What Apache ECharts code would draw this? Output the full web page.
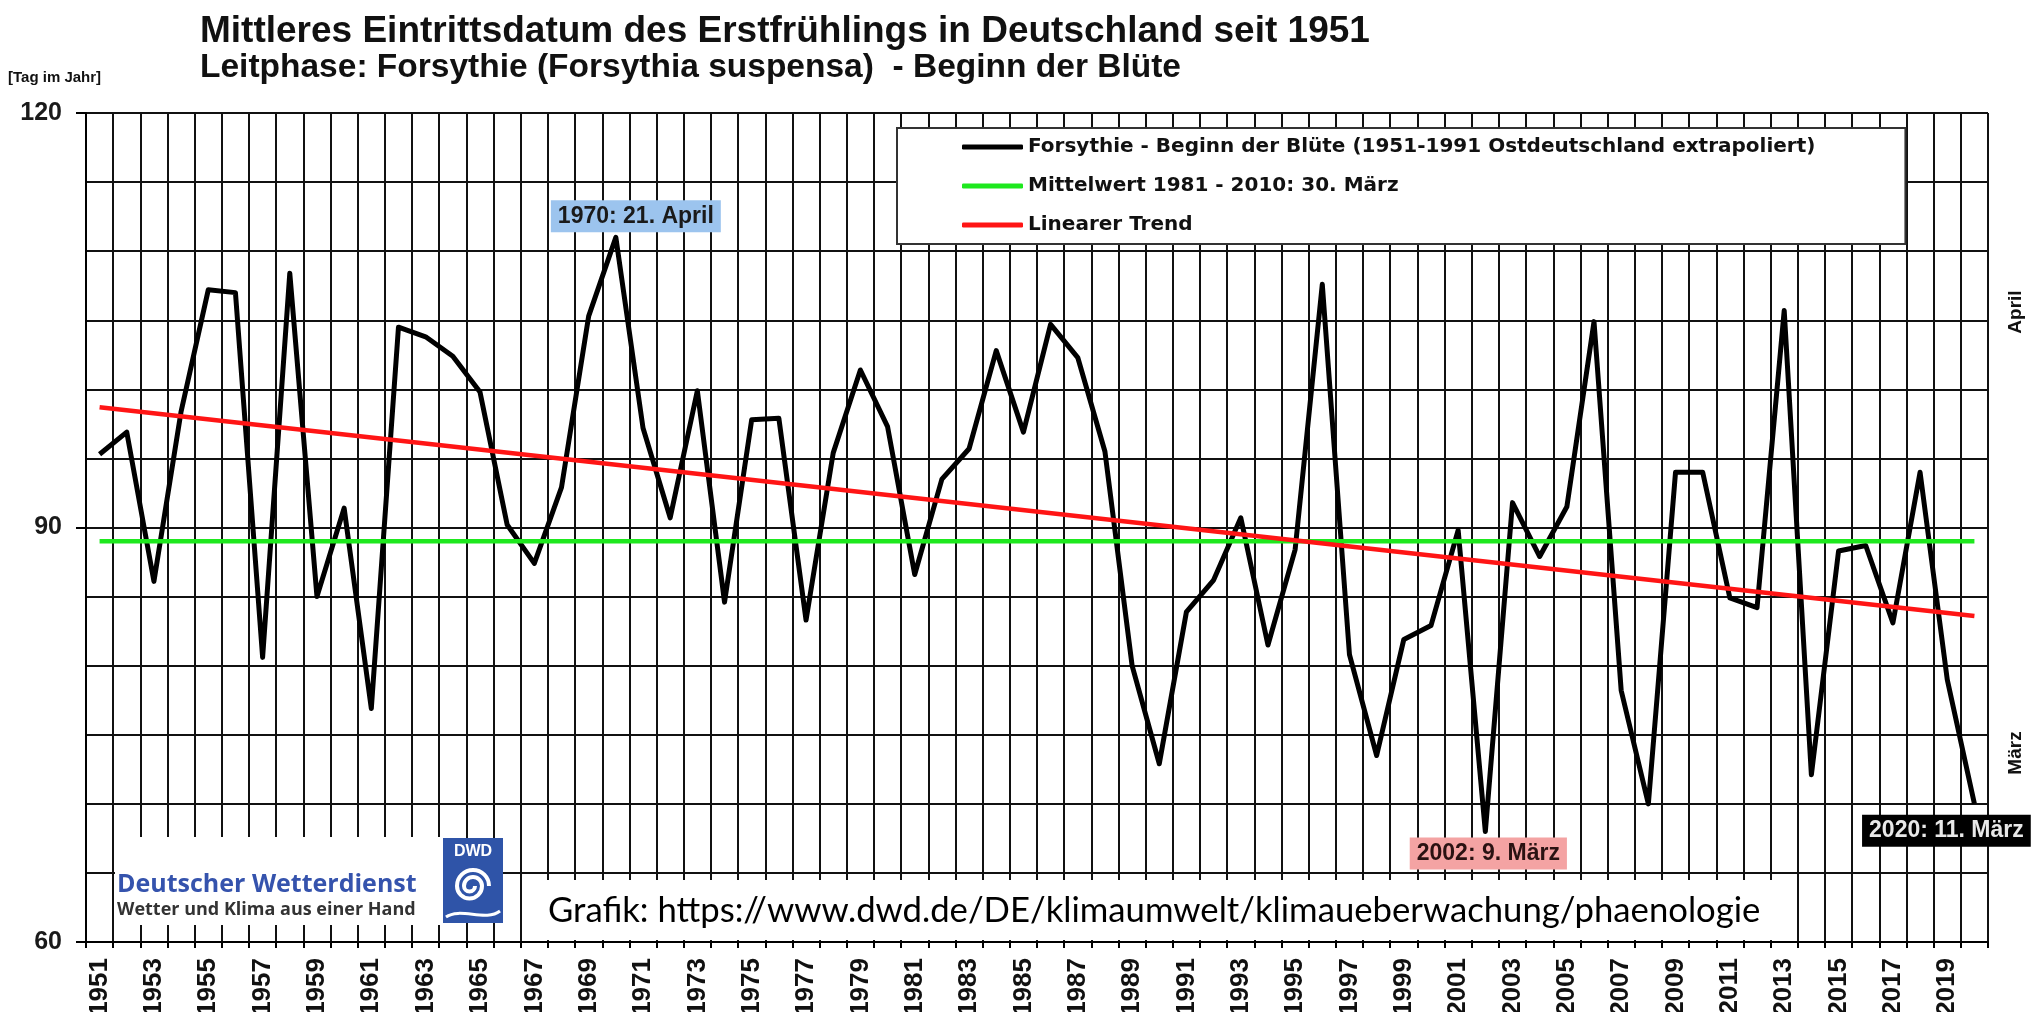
<!DOCTYPE html>
<html>
<head>
<meta charset="utf-8">
<script src="https://cdn.jsdelivr.net/npm/echarts@6/dist/echarts.min.js"></script>
<style>
  html, body { margin: 0; padding: 0; background: #fff; }
  #chart { width: 2031px; height: 1012px; }
</style>
</head>
<body>
<div id="chart"></div>
<script>
// Jahre (Kategorien)
const years = [
  '1951', '1952', '1953', '1954', '1955', '1956', '1957', '1958', '1959', '1960',
  '1961', '1962', '1963', '1964', '1965', '1966', '1967', '1968', '1969', '1970',
  '1971', '1972', '1973', '1974', '1975', '1976', '1977', '1978', '1979', '1980',
  '1981', '1982', '1983', '1984', '1985', '1986', '1987', '1988', '1989', '1990',
  '1991', '1992', '1993', '1994', '1995', '1996', '1997', '1998', '1999', '2000',
  '2001', '2002', '2003', '2004', '2005', '2006', '2007', '2008', '2009', '2010',
  '2011', '2012', '2013', '2014', '2015', '2016', '2017', '2018', '2019', '2020'
]

// Beginn der Forsythienblüte, Tag im Jahr
const bloomDays = [
  95.3, 96.9, 86.1, 98.4, 107.2, 107.0, 80.6, 108.4, 85.0, 91.4,
  76.9, 104.5, 103.8, 102.4, 99.8, 90.2, 87.4, 92.9, 105.3, 111,
  97.2, 90.7, 99.9, 84.6, 97.8, 97.9, 83.3, 95.4, 101.4, 97.3,
  86.6, 93.5, 95.7, 102.8, 96.9, 104.7, 102.3, 95.5, 80.0, 72.9,
  83.9, 86.2, 90.7, 81.5, 88.4, 107.6, 80.8, 73.5, 81.9, 82.9,
  89.8, 68, 91.8, 87.9, 91.5, 104.9, 78.2, 70.0, 94.0, 94.0,
  84.9, 84.2, 105.7, 72.1, 88.3, 88.7, 83.1, 94.0, 79.0, 70
]

// Mittelwert 1981-2010 (30. März)
const meanYears = ['1951', '2020']
const meanDays = [89, 89]

// linearer Trend, Anfangs- und Endwert
const trendYears = ['1951', '2020']
const trendDays = [98.7, 83.6]

// Beschriftete Jahre
const noteYears = ['1970', '2002', '2020']
const noteTexts = ['1970: 21. April', '2002: 9. März', '2020: 11. März']

const seriesNames = [
  'Forsythie - Beginn der Blüte (1951-1991 Ostdeutschland extrapoliert)',
  'Mittelwert 1981 - 2010: 30. März',
  'Linearer Trend'
]

const titleLines = [
  'Mittleres Eintrittsdatum des Erstfrühlings in Deutschland seit 1951',
  'Leitphase: Forsythie (Forsythia suspensa)  - Beginn der Blüte'
]

const noteStyles = [
  { backgroundColor: '#9cc4ee', color: '#1a1a1a', offset: [20, -21] },
  { backgroundColor: '#f4a3a3', color: '#2a1212', offset: [3, 22] },
  { backgroundColor: '#000000', color: '#e8e8e8', offset: [-28, 27] }
]

const FONT = '"Liberation Sans", Arial, sans-serif'

const chart = echarts.init(document.getElementById('chart'), null, { renderer: 'canvas' })

const spiral = (cx, cy, r, start, end) => ({
  type: 'arc',
  z: 102,
  shape: { cx: cx, cy: cy, r: r, startAngle: start, endAngle: end, clockwise: false },
  style: { fill: null, stroke: '#fff', lineWidth: 4 }
})

const option = {
  animation: false,
  backgroundColor: '#fff',
  title: {
    text: '{a|' + titleLines[0] + '}\n{b|' + titleLines[1] + '}',
    left: 195,
    top: 9,
    textStyle: {
      fontFamily: FONT,
      fontWeight: 'bold',
      color: '#111',
      rich: {
        a: { fontFamily: FONT, fontWeight: 'bold', fontSize: 37, lineHeight: 36, color: '#111' },
        b: { fontFamily: FONT, fontWeight: 'bold', fontSize: 33.5, lineHeight: 36, color: '#111' }
      }
    }
  },
  grid: {
    left: 86,
    right: 43,
    top: 113,
    bottom: 70,
    outerBoundsMode: 'none',
    containLabel: false
  },
  legend: {
    orient: 'vertical',
    left: 897,
    top: 128,
    padding: [9, 90, 9, 65],
    itemGap: 19,
    itemWidth: 61,
    itemHeight: 5,
    icon: 'roundRect',
    backgroundColor: '#fff',
    borderColor: '#333',
    borderWidth: 2,
    z: 20,
    textStyle: {
      fontFamily: '"DejaVu Sans", sans-serif',
      fontWeight: 'bold',
      fontSize: 20,
      color: '#111'
    },
    data: seriesNames
  },
  xAxis: {
    type: 'category',
    data: years,
    boundaryGap: true,
    axisLine: { show: true, lineStyle: { color: '#000', width: 2 } },
    axisTick: { show: true, interval: 0, length: 6, lineStyle: { color: '#000', width: 2 } },
    axisLabel: {
      interval: 1,
      rotate: 90,
      margin: 16,
      fontFamily: FONT,
      fontWeight: 'bold',
      fontSize: 26,
      color: '#111'
    },
    splitLine: { show: true, interval: 0, lineStyle: { color: '#111', width: 2 } }
  },
  yAxis: [
    {
      type: 'value',
      min: 60,
      max: 120,
      interval: 5,
      position: 'left',
      axisLine: { show: true, lineStyle: { color: '#000', width: 2 } },
      axisTick: { show: false },
      axisLabel: { show: false },
      splitLine: { show: true, lineStyle: { color: '#111', width: 2 } }
    },
    {
      type: 'value',
      min: 60,
      max: 120,
      interval: 30,
      position: 'left',
      axisLine: { show: false },
      axisTick: { show: true, length: 10, lineStyle: { color: '#000', width: 2 } },
      axisLabel: {
        margin: 24,
        fontFamily: FONT,
        fontWeight: 'bold',
        fontSize: 25,
        color: '#1a1a1a'
      },
      splitLine: { show: false }
    }
  ],
  series: [
    {
      name: seriesNames[0],
      type: 'line',
      data: bloomDays,
      yAxisIndex: 0,
      symbol: 'none',
      color: '#000',
      lineStyle: { color: '#000', width: 5, join: 'round' },
      z: 3,
      markPoint: {
        symbol: 'circle',
        symbolSize: 0,
        data: noteYears.map((y, k) => ({
          coord: [y, bloomDays[years.indexOf(y)]],
          label: {
            show: true,
            formatter: noteTexts[k],
            position: 'inside',
            offset: noteStyles[k].offset,
            backgroundColor: noteStyles[k].backgroundColor,
            color: noteStyles[k].color,
            padding: [5, 7, 4, 7],
            fontFamily: FONT,
            fontWeight: 'bold',
            fontSize: 23
          }
        }))
      }
    },
    {
      name: seriesNames[1],
      type: 'line',
      data: meanYears.map((y, k) => [y, meanDays[k]]),
      yAxisIndex: 0,
      symbol: 'none',
      color: '#1ee81e',
      lineStyle: { color: '#1ee81e', width: 4.5 },
      z: 4
    },
    {
      name: seriesNames[2],
      type: 'line',
      data: trendYears.map((y, k) => [y, trendDays[k]]),
      yAxisIndex: 0,
      symbol: 'none',
      color: '#ff1515',
      lineStyle: { color: '#ff1515', width: 4.5 },
      z: 5
    }
  ],
  graphic: {
    elements: [
      {
        type: 'text',
        x: 8,
        y: 78,
        z: 100,
        style: { text: '[Tag im Jahr]', font: 'bold 15px "Liberation Sans"', fill: '#111', verticalAlign: 'middle' }
      },
      {
        type: 'text',
        x: 2016,
        y: 312,
        rotation: Math.PI / 2,
        z: 100,
        style: { text: 'April', font: 'bold 19px "Liberation Sans"', fill: '#111', align: 'center', verticalAlign: 'middle' }
      },
      {
        type: 'text',
        x: 2016,
        y: 753,
        rotation: Math.PI / 2,
        z: 100,
        style: { text: 'März', font: 'bold 19px "Liberation Sans"', fill: '#111', align: 'center', verticalAlign: 'middle' }
      },
      // DWD Logo
      {
        type: 'rect',
        z: 100,
        shape: { x: 115, y: 837, width: 328, height: 88 },
        style: { fill: '#fff' }
      },
      {
        type: 'text',
        x: 117,
        y: 885,
        z: 101,
        style: { text: 'Deutscher Wetterdienst', font: 'bold 25px "Open Sans"', fill: '#3553ad', verticalAlign: 'middle' }
      },
      {
        type: 'text',
        x: 117,
        y: 910,
        z: 101,
        style: { text: 'Wetter und Klima aus einer Hand', font: 'bold 18px "Open Sans"', fill: '#333', verticalAlign: 'middle' }
      },
      {
        type: 'rect',
        z: 101,
        shape: { x: 443, y: 838, width: 60, height: 85 },
        style: { fill: '#2f54a8' }
      },
      {
        type: 'text',
        x: 473,
        y: 852,
        z: 102,
        style: { text: 'DWD', font: 'bold 16px "Liberation Sans"', fill: '#fff', align: 'center', verticalAlign: 'middle' }
      },
      spiral(473, 886, 16, 0, Math.PI),
      spiral(469.5, 886, 12.5, Math.PI, 0),
      spiral(473, 886, 9, 0, Math.PI),
      spiral(469.5, 886, 5.5, Math.PI, 0),
      {
        type: 'bezierCurve',
        z: 102,
        shape: { x1: 446, y1: 917, cpx1: 460, cpy1: 907, cpx2: 486, cpy2: 922, x2: 500, y2: 911 },
        style: { fill: null, stroke: '#fff', lineWidth: 3 }
      },
      // Quellenangabe
      {
        type: 'rect',
        z: 100,
        shape: { x: 529, y: 880, width: 1251, height: 60 },
        style: { fill: '#fff' }
      },
      {
        type: 'text',
        x: 548,
        y: 911,
        z: 101,
        style: {
          text: 'Grafik: https://www.dwd.de/DE/klimaumwelt/klimaueberwachung/phaenologie',
          font: '34.7px Lato',
          fill: '#000',
          verticalAlign: 'middle'
        }
      }
    ]
  }
}

chart.setOption(option)

window.addEventListener('resize', function () {
  chart.resize()
})
</script>
</body>
</html>
